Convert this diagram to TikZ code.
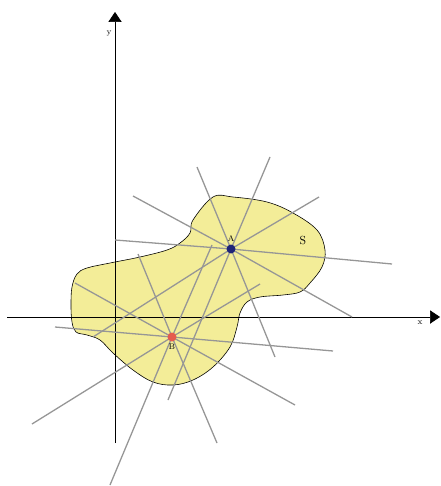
\documentclass[tikz,border=0pt]{standalone}
\usepackage{tikz}
\usetikzlibrary{arrows.meta}
\definecolor{blobfill}{RGB}{243,237,152}
\definecolor{raygray}{RGB}{150,150,150}
\definecolor{pointA}{RGB}{30,35,120}
\definecolor{pointB}{RGB}{228,90,78}

\begin{document}
\begin{tikzpicture}[
    x=0.03cm, y=-0.03cm,
    axis/.style={-{Triangle[length=0.3cm, width=0.4cm]}, line width=0.6pt},
    ray/.style={raygray, line width=1.1pt},
    dot/.style={circle, fill=#1, inner sep=0pt, minimum size=0.27cm},
    lbl/.style={font=\scriptsize, inner sep=1pt}
]
\useasboundingbox (0,0) rectangle (440,486);

% region S
\draw[fill=blobfill, line width=0.5pt] plot[smooth cycle, tension=0.6] coordinates {
    (193,220) (213,197) (233,197) (267,202) (293,213) (317,230) (325,250)
    (322,267) (310,283) (300,292) (283,295) (260,297) (247,302) (240,313)
    (237,327) (230,347) (213,367) (193,380) (173,385) (153,382) (133,370)
    (113,353) (100,340) (87,335) (76,332) (72,322) (71,305) (72,287)
    (77,274) (87,268) (110,263) (140,257) (167,250) (180,243) (190,233)};

% axes
\coordinate (xstart) at (7,317);
\coordinate (xend) at (440,317);
\coordinate (ystart) at (115,443);
\coordinate (yend) at (115,12);
\draw[axis] (xstart) -- (xend);
\draw[axis] (ystart) -- (yend);
\node[font=\scriptsize] (xlabel) at (420,323) {x};
\node[font=\scriptsize] (ylabel) at (109,34) {y};

% points
\coordinate (A) at (231,249);
\coordinate (B) at (172,337);

% lines through A
\draw[ray] (115,240) -- (A) -- (392,264);
\draw[ray] (133,196) -- (A) -- (352,317);
\draw[ray] (197,167) -- (A) -- (275,357);
\draw[ray] (270,157) -- (A) -- (168,400);
\draw[ray] (319,197) -- (A) -- (93,337);

% lines through B
\draw[ray] (55,327) -- (B) -- (333,351);
\draw[ray] (75,283) -- (B) -- (295,405);
\draw[ray] (138,254) -- (B) -- (217,443);
\draw[ray] (212,245) -- (B) -- (110,485);
\draw[ray] (260,284) -- (B) -- (32,424);

\node[dot=pointA] (dotA) at (A) {};
\node[dot=pointB] (dotB) at (B) {};
\node[lbl, above=1pt] (labelA) at (dotA.north) {A};
\node[lbl, below=1pt] (labelB) at (dotB.south) {B};
\node[font=\normalsize] (labelS) at (303,240) {S};
\end{tikzpicture}
\end{document}
